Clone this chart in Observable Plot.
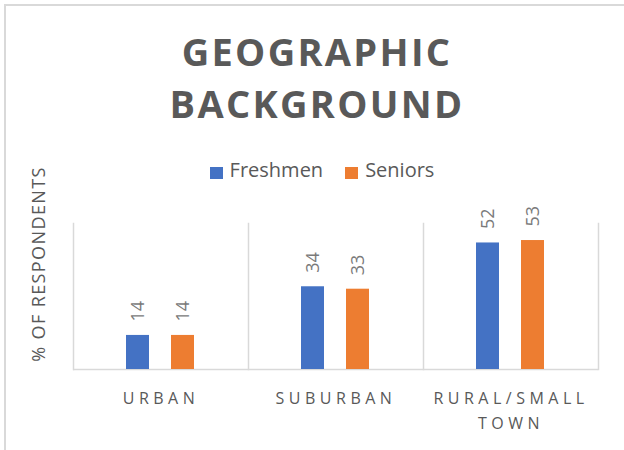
<!DOCTYPE html>
<html><head>
<meta charset="utf-8">
<script src="https://cdn.jsdelivr.net/npm/d3@7"></script>
<script src="https://cdn.jsdelivr.net/npm/@observablehq/plot@0.6"></script>
<style>
  html, body { margin: 0; padding: 0; background: #fff; }
  body { font-family: "Open Sans", sans-serif; }
  #chart { position: relative; width: 624px; height: 450px; overflow: hidden; }
  #border { position: absolute; left: 4px; top: 4px; width: 700px; height: 500px;
            border-left: 2px solid #d9d9d9; border-top: 2px solid #d9d9d9; }
  .title { position: absolute; left: 0; width: 634px; text-align: center; font-weight: 700;
           font-size: 38px; line-height: 52px; letter-spacing: 2.3px; color: #595959; }
  #legend { position: absolute; left: 0; width: 644px; top: 158px; display: flex; justify-content: center;
            font-size: 20px; line-height: 24px; color: #595959; }
  .item { display: flex; align-items: flex-start; margin: 0 11px; }
  .sw { width: 13px; height: 12px; margin-top: 9px; margin-right: 7px; }
  #plot { position: absolute; left: 0; top: 190px; }
  #ylabel { position: absolute; left: 38px; top: 264px; width: 0; height: 0; }
  #ylabel span { position: absolute; left: 0; top: 0; white-space: nowrap; font-size: 18px; line-height: 22px;
                 letter-spacing: 1.4px; color: #595959;
                 transform: translate(-50%, -50%) rotate(-90deg); }
  g[aria-label="fx-axis tick label"] { letter-spacing: 4.5px; }
</style>
</head><body>
<div id="chart">
  <div id="border"></div>
  <div id="t1" class="title" style="top:25px"></div>
  <div id="t2" class="title" style="top:77px"></div>
  <div id="legend"></div>
  <div id="plot"></div>
  <div id="ylabel"><span></span></div>
</div>
<script>
const titleLines = ["GEOGRAPHIC", "BACKGROUND"];
const yLabel = "% OF RESPONDENTS";
const categories = ["Urban", "Suburban", "Rural/Small Town"];
const tickLabels = ["URBAN", "SUBURBAN", "RURAL/SMALL\nTOWN"];
const series = ["Freshmen", "Seniors"];
const colors = ["#4472C4", "#ED7D31"];
const freshmen = [14, 34, 52];
const seniors = [14, 33, 53];

document.getElementById("t1").textContent = titleLines[0];
document.getElementById("t2").textContent = titleLines[1];
document.querySelector("#ylabel span").textContent = yLabel;

const legend = document.getElementById("legend");
series.forEach((s, i) => {
  const item = document.createElement("div");
  item.className = "item";
  const sw = document.createElement("div");
  sw.className = "sw";
  sw.style.background = colors[i];
  const lab = document.createElement("span");
  lab.textContent = s;
  item.appendChild(sw);
  item.appendChild(lab);
  legend.appendChild(item);
});

const values = [freshmen, seniors];
const data = categories.flatMap((c, i) =>
  series.map((s, j) => ({category: c, series: s, value: values[j][i]})));

const plot = Plot.plot({
  width: 624,
  height: 260,
  marginTop: 33,
  marginLeft: 72,
  marginRight: 25,
  marginBottom: 81,
  style: {fontFamily: "'Open Sans', sans-serif", background: "transparent", overflow: "visible"},
  fx: {domain: categories, padding: 0, axis: null},
  x: {domain: series, paddingInner: 0.478, paddingOuter: 1.149, axis: null},
  y: {domain: [0, 60], axis: null},
  color: {domain: series, range: colors},
  marks: [
    Plot.frame({anchor: "left", stroke: "#d9d9d9", strokeWidth: 1.5, strokeOpacity: 1}),
    Plot.frame({anchor: "right", stroke: "#d9d9d9", strokeWidth: 1.5, strokeOpacity: 1, facet: "super"}),
    Plot.ruleY([0], {stroke: "#d9d9d9", strokeWidth: 1.5}),
    Plot.barY(data, {fx: "category", x: "series", y: "value", fill: "series"}),
    Plot.text(data, {fx: "category", x: "series", y: "value", text: d => String(d.value),
      rotate: -90, textAnchor: "start", dy: -14, fontSize: 18, fill: "#7a7a7a"}),
    Plot.axisFx({anchor: "bottom", tickSize: 0, tickPadding: 16, label: null,
      tickFormat: d => tickLabels[categories.indexOf(d)], fontSize: 16, lineHeight: 1.6,
      fill: "#595959"})
  ]
});
document.getElementById("plot").appendChild(plot);
</script>
</body></html>
